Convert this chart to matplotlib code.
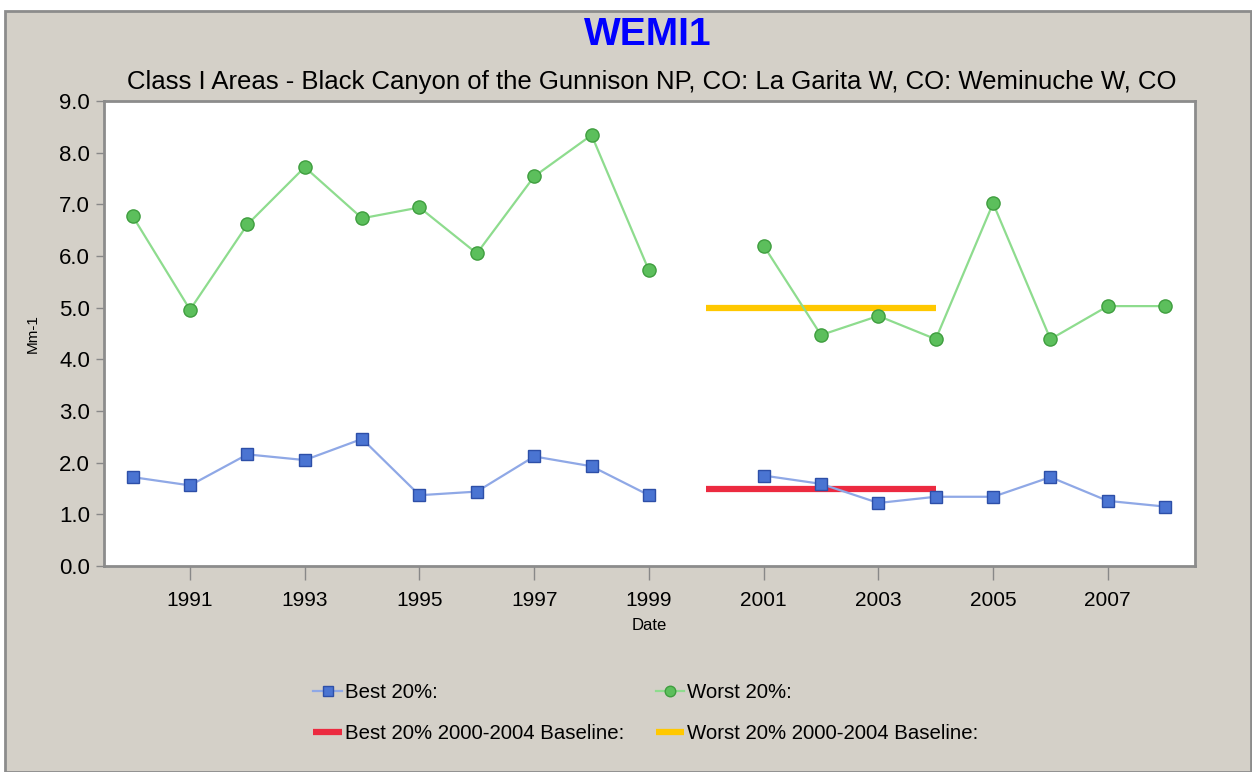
import matplotlib
matplotlib.use("Agg")
import matplotlib.pyplot as plt
import numpy as np
from matplotlib.patches import Rectangle

plt.rcParams["font.family"] = ["Liberation Sans", "DejaVu Sans"]

# --- Data ---
years = [1990, 1991, 1992, 1993, 1994, 1995, 1996, 1997, 1998, 1999,
         2000, 2001, 2002, 2003, 2004, 2005, 2006, 2007, 2008]
best = [1.72, 1.56, 2.16, 2.05, 2.46, 1.37, 1.44, 2.12, 1.93, 1.37,
        np.nan, 1.75, 1.59, 1.22, 1.34, 1.34, 1.72, 1.26, 1.15]
worst = [6.77, 4.96, 6.61, 7.72, 6.73, 6.94, 6.05, 7.54, 8.34, 5.72,
         np.nan, 6.20, 4.47, 4.84, 4.39, 7.02, 4.39, 5.03, 5.03]
baseline_years = [2000, 2004]
best_baseline = 1.49
worst_baseline = 5.00
xtick_years = [1991, 1993, 1995, 1997, 1999, 2001, 2003, 2005, 2007]
yticks = [0, 1, 2, 3, 4, 5, 6, 7, 8, 9]

W, H = 1252, 772
fig = plt.figure(figsize=(W / 100, H / 100), dpi=100, facecolor="white")

# grey panel with border
fig.patches.append(Rectangle((5 / W, 0), (W - 6) / W, (H - 11) / H,
                             transform=fig.transFigure, facecolor="#D4D0C8",
                             edgecolor="#8C8C8C", linewidth=2, zorder=-5))

ax = fig.add_axes([104 / W, (H - 566) / H, (1195 - 104) / W, (566 - 101) / H])
ax.set_facecolor("white")

ax.plot(years, worst, color="#8EDC8E", linewidth=1.6, marker="o", markersize=9.5,
        markerfacecolor="#5CBF5C", markeredgecolor="#3F9E3F", markeredgewidth=1,
        label="Worst 20%:", zorder=3)
ax.plot(years, best, color="#8FA8E6", linewidth=1.6, marker="s", markersize=9,
        markerfacecolor="#4A74D2", markeredgecolor="#2D4FA8", markeredgewidth=1,
        label="Best 20%:", zorder=3)
ax.plot(baseline_years, [best_baseline] * 2, color="#EC2A40", linewidth=4.5,
        solid_capstyle="butt", label="Best 20% 2000-2004 Baseline:", zorder=2)
ax.plot(baseline_years, [worst_baseline] * 2, color="#FFC800", linewidth=4.5,
        solid_capstyle="butt", label="Worst 20% 2000-2004 Baseline:", zorder=2)

ax.set_xlim(1989.5, 2008.52)
ax.set_ylim(0, 9)
ax.set_xticks(xtick_years)
ax.set_xticklabels([str(y) for y in xtick_years], fontsize=15)
ax.set_yticks(yticks)
ax.set_yticklabels([f"{v:.1f}" for v in yticks], fontsize=16)
ax.tick_params(axis="y", length=6, width=1, color="#888888", pad=4)
ax.tick_params(axis="x", length=10, width=1, color="#888888", pad=8)
for s in ax.spines.values():
    s.set_color("#8C8C8C")
    s.set_linewidth(2)

ax.set_xlabel("Date", fontsize=12, labelpad=6)
ax.set_ylabel("Mm-1", fontsize=11, labelpad=14)

fig.text(648 / W, 1 - 35 / H, "WEMI1", color="#0000FF", fontsize=28,
         fontweight="bold", ha="center", va="center")
fig.text(652 / W, 1 - 82 / H,
         "Class I Areas - Black Canyon of the Gunnison NP, CO: La Garita W, CO: Weminuche W, CO",
         fontsize=18.5, ha="center", va="center")

h, l = ax.get_legend_handles_labels()
order = [1, 2, 0, 3]
fig.legend([h[i] for i in order], [l[i] for i in order], ncol=2,
           loc="center", bbox_to_anchor=(646 / W, 1 - 713 / H), frameon=False,
           fontsize=14.7, handlelength=1.4, handletextpad=0.15, columnspacing=1.55,
           labelspacing=1.1, markerscale=0.8)

fig.savefig("out.png", dpi=100, facecolor=fig.get_facecolor())
